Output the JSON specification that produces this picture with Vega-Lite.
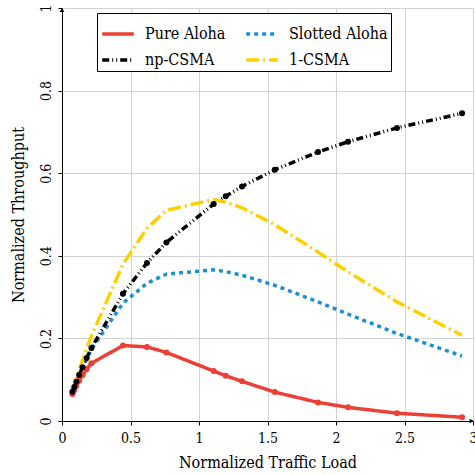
{
  "$schema": "https://vega.github.io/schema/vega-lite/v6.json",
  "width": 411,
  "height": 413,
  "autosize": {"type": "none"},
  "padding": {"left": 62, "top": 8, "right": 2, "bottom": 53},
  "background": "white",
  "config": {
    "view": {"stroke": null},
    "font": "DejaVu Serif Condensed",
    "axis": {
      "labelFont": "DejaVu Serif Condensed",
      "titleFont": "DejaVu Serif Condensed",
      "labelFontSize": 14,
      "titleFontSize": 16,
      "titleFontWeight": "normal",
      "labelColor": "black",
      "titleColor": "black",
      "domainColor": "black",
      "domainWidth": 1,
      "tickColor": "black",
      "tickSize": 4,
      "gridColor": "#d3d3d3",
      "gridWidth": 1
    },
    "legend": {
      "labelFont": "DejaVu Serif Condensed",
      "labelFontSize": 16,
      "labelColor": "black"
    }
  },
  "datasets": {
    "curves": [
      {"series": "Pure Aloha", "load": 0.076, "throughput": 0.0653},
      {"series": "Pure Aloha", "load": 0.09, "throughput": 0.0752},
      {"series": "Pure Aloha", "load": 0.105, "throughput": 0.0851},
      {"series": "Pure Aloha", "load": 0.125, "throughput": 0.0974},
      {"series": "Pure Aloha", "load": 0.15, "throughput": 0.1111},
      {"series": "Pure Aloha", "load": 0.18, "throughput": 0.1256},
      {"series": "Pure Aloha", "load": 0.215, "throughput": 0.1399},
      {"series": "Pure Aloha", "load": 0.445, "throughput": 0.1827},
      {"series": "Pure Aloha", "load": 0.62, "throughput": 0.1794},
      {"series": "Pure Aloha", "load": 0.762, "throughput": 0.166},
      {"series": "Pure Aloha", "load": 1.107, "throughput": 0.121},
      {"series": "Pure Aloha", "load": 1.195, "throughput": 0.1095},
      {"series": "Pure Aloha", "load": 1.314, "throughput": 0.096},
      {"series": "Pure Aloha", "load": 1.553, "throughput": 0.070},
      {"series": "Pure Aloha", "load": 1.869, "throughput": 0.045},
      {"series": "Pure Aloha", "load": 2.088, "throughput": 0.033},
      {"series": "Pure Aloha", "load": 2.445, "throughput": 0.019},
      {"series": "Pure Aloha", "load": 2.92, "throughput": 0.009},
      {"series": "Slotted Aloha", "load": 0.076, "throughput": 0.0704},
      {"series": "Slotted Aloha", "load": 0.09, "throughput": 0.0823},
      {"series": "Slotted Aloha", "load": 0.105, "throughput": 0.0945},
      {"series": "Slotted Aloha", "load": 0.125, "throughput": 0.1103},
      {"series": "Slotted Aloha", "load": 0.15, "throughput": 0.1291},
      {"series": "Slotted Aloha", "load": 0.18, "throughput": 0.1504},
      {"series": "Slotted Aloha", "load": 0.215, "throughput": 0.1734},
      {"series": "Slotted Aloha", "load": 0.445, "throughput": 0.2852},
      {"series": "Slotted Aloha", "load": 0.62, "throughput": 0.3335},
      {"series": "Slotted Aloha", "load": 0.762, "throughput": 0.3556},
      {"series": "Slotted Aloha", "load": 1.107, "throughput": 0.366},
      {"series": "Slotted Aloha", "load": 1.195, "throughput": 0.3617},
      {"series": "Slotted Aloha", "load": 1.314, "throughput": 0.3531},
      {"series": "Slotted Aloha", "load": 1.553, "throughput": 0.3286},
      {"series": "Slotted Aloha", "load": 1.869, "throughput": 0.2884},
      {"series": "Slotted Aloha", "load": 2.088, "throughput": 0.2588},
      {"series": "Slotted Aloha", "load": 2.445, "throughput": 0.212},
      {"series": "Slotted Aloha", "load": 2.92, "throughput": 0.1574},
      {"series": "np-CSMA", "load": 0.076, "throughput": 0.0706},
      {"series": "np-CSMA", "load": 0.09, "throughput": 0.0826},
      {"series": "np-CSMA", "load": 0.105, "throughput": 0.095},
      {"series": "np-CSMA", "load": 0.125, "throughput": 0.1111},
      {"series": "np-CSMA", "load": 0.15, "throughput": 0.1304},
      {"series": "np-CSMA", "load": 0.18, "throughput": 0.1525},
      {"series": "np-CSMA", "load": 0.215, "throughput": 0.177},
      {"series": "np-CSMA", "load": 0.445, "throughput": 0.308},
      {"series": "np-CSMA", "load": 0.62, "throughput": 0.3827},
      {"series": "np-CSMA", "load": 0.762, "throughput": 0.4325},
      {"series": "np-CSMA", "load": 1.107, "throughput": 0.5254},
      {"series": "np-CSMA", "load": 1.195, "throughput": 0.5444},
      {"series": "np-CSMA", "load": 1.314, "throughput": 0.5678},
      {"series": "np-CSMA", "load": 1.553, "throughput": 0.6083},
      {"series": "np-CSMA", "load": 1.869, "throughput": 0.6514},
      {"series": "np-CSMA", "load": 2.088, "throughput": 0.6762},
      {"series": "np-CSMA", "load": 2.445, "throughput": 0.7097},
      {"series": "np-CSMA", "load": 2.92, "throughput": 0.7449},
      {"series": "1-CSMA", "load": 0.076, "throughput": 0.0756},
      {"series": "1-CSMA", "load": 0.09, "throughput": 0.0893},
      {"series": "1-CSMA", "load": 0.105, "throughput": 0.1039},
      {"series": "1-CSMA", "load": 0.125, "throughput": 0.1232},
      {"series": "1-CSMA", "load": 0.15, "throughput": 0.1469},
      {"series": "1-CSMA", "load": 0.18, "throughput": 0.1747},
      {"series": "1-CSMA", "load": 0.215, "throughput": 0.2062},
      {"series": "1-CSMA", "load": 0.445, "throughput": 0.3795},
      {"series": "1-CSMA", "load": 0.62, "throughput": 0.4666},
      {"series": "1-CSMA", "load": 0.762, "throughput": 0.51},
      {"series": "1-CSMA", "load": 1.107, "throughput": 0.5364},
      {"series": "1-CSMA", "load": 1.195, "throughput": 0.5301},
      {"series": "1-CSMA", "load": 1.314, "throughput": 0.5162},
      {"series": "1-CSMA", "load": 1.553, "throughput": 0.4755},
      {"series": "1-CSMA", "load": 1.869, "throughput": 0.4089},
      {"series": "1-CSMA", "load": 2.088, "throughput": 0.3612},
      {"series": "1-CSMA", "load": 2.445, "throughput": 0.2885},
      {"series": "1-CSMA", "load": 2.92, "throughput": 0.2075}
    ]
  },
  "encoding": {
    "x": {
      "field": "load",
      "type": "quantitative",
      "scale": {"domain": [0, 3], "nice": false, "zero": false},
      "axis": {
        "title": "Normalized Traffic Load",
        "values": [0, 0.5, 1, 1.5, 2, 2.5, 3],
        "format": "~g",
        "labelPadding": 6,
        "titlePadding": 9,
        "labelFlush": false,
        "labelOverlap": false
      }
    },
    "y": {
      "field": "throughput",
      "type": "quantitative",
      "scale": {"domain": [0, 1], "nice": false},
      "axis": {
        "title": "Normalized Throughput",
        "values": [0, 0.2, 0.4, 0.6, 0.8, 1],
        "format": "~g",
        "labelAngle": -90,
        "labelPadding": 5,
        "titlePadding": 13,
        "labelFlush": false,
        "labelOverlap": false
      }
    }
  },
  "layer": [
    {
      "data": {"name": "curves"},
      "mark": {"type": "line", "strokeWidth": 3.5, "clip": false},
      "encoding": {
        "color": {
          "field": "series",
          "type": "nominal",
          "scale": {
            "domain": ["Pure Aloha", "Slotted Aloha", "np-CSMA", "1-CSMA"],
            "range": ["#EC4036", "#1E8FD0", "#000000", "#FFD000"]
          },
          "legend": {
            "title": null,
            "orient": "none",
            "legendX": 35,
            "legendY": 5,
            "columns": 2,
            "direction": "horizontal",
            "strokeColor": "black",
            "fillColor": "white",
            "padding": 3,
            "columnPadding": 13,
            "rowPadding": -6,
            "symbolType": "stroke",
            "symbolSize": 1000,
            "symbolStrokeWidth": 3.5,
            "labelOffset": 9,
            "labelFont": "DejaVu Serif Condensed",
            "labelFontSize": 16,
            "labelLimit": 200,
            "encode": {
              "labels": {
                "update": {
                  "font": {"value": "DejaVu Serif Condensed"},
                  "fontSize": {"value": 16}
                }
              }
            }
          }
        },
        "strokeDash": {
          "field": "series",
          "type": "nominal",
          "scale": {
            "domain": ["Pure Aloha", "Slotted Aloha", "np-CSMA", "1-CSMA"],
            "range": [[1, 0], [4, 4], [7, 3, 1, 3, 1, 3], [13, 4, 2, 4]]
          },
          "legend": {
            "title": null,
            "orient": "none",
            "legendX": 35,
            "legendY": 5,
            "columns": 2,
            "direction": "horizontal",
            "strokeColor": "black",
            "fillColor": "white",
            "padding": 3,
            "columnPadding": 13,
            "rowPadding": -6,
            "symbolType": "stroke",
            "symbolSize": 1000,
            "symbolStrokeWidth": 3.5,
            "labelOffset": 9,
            "labelFont": "DejaVu Serif Condensed",
            "labelFontSize": 16,
            "labelLimit": 200,
            "encode": {
              "labels": {
                "update": {
                  "font": {"value": "DejaVu Serif Condensed"},
                  "fontSize": {"value": 16}
                }
              }
            }
          }
        },
        "order": {"field": "load", "type": "quantitative"}
      }
    },
    {
      "data": {"name": "curves"},
      "transform": [{"filter": {"field": "series", "oneOf": ["Pure Aloha", "np-CSMA"]}}],
      "mark": {"type": "point", "filled": true, "opacity": 1, "size": 36, "clip": false},
      "encoding": {
        "color": {"field": "series", "type": "nominal", "legend": null}
      }
    },
    {
      "data": {"values": [{"load": 2.99, "throughput": 0}]},
      "mark": {"type": "point", "shape": "triangle-right", "filled": true, "color": "black", "opacity": 1, "size": 22, "clip": false}
    },
    {
      "data": {"values": [{"load": 0, "throughput": 0.995}]},
      "mark": {"type": "point", "shape": "triangle-up", "filled": true, "color": "black", "opacity": 1, "size": 22, "clip": false}
    }
  ]
}
